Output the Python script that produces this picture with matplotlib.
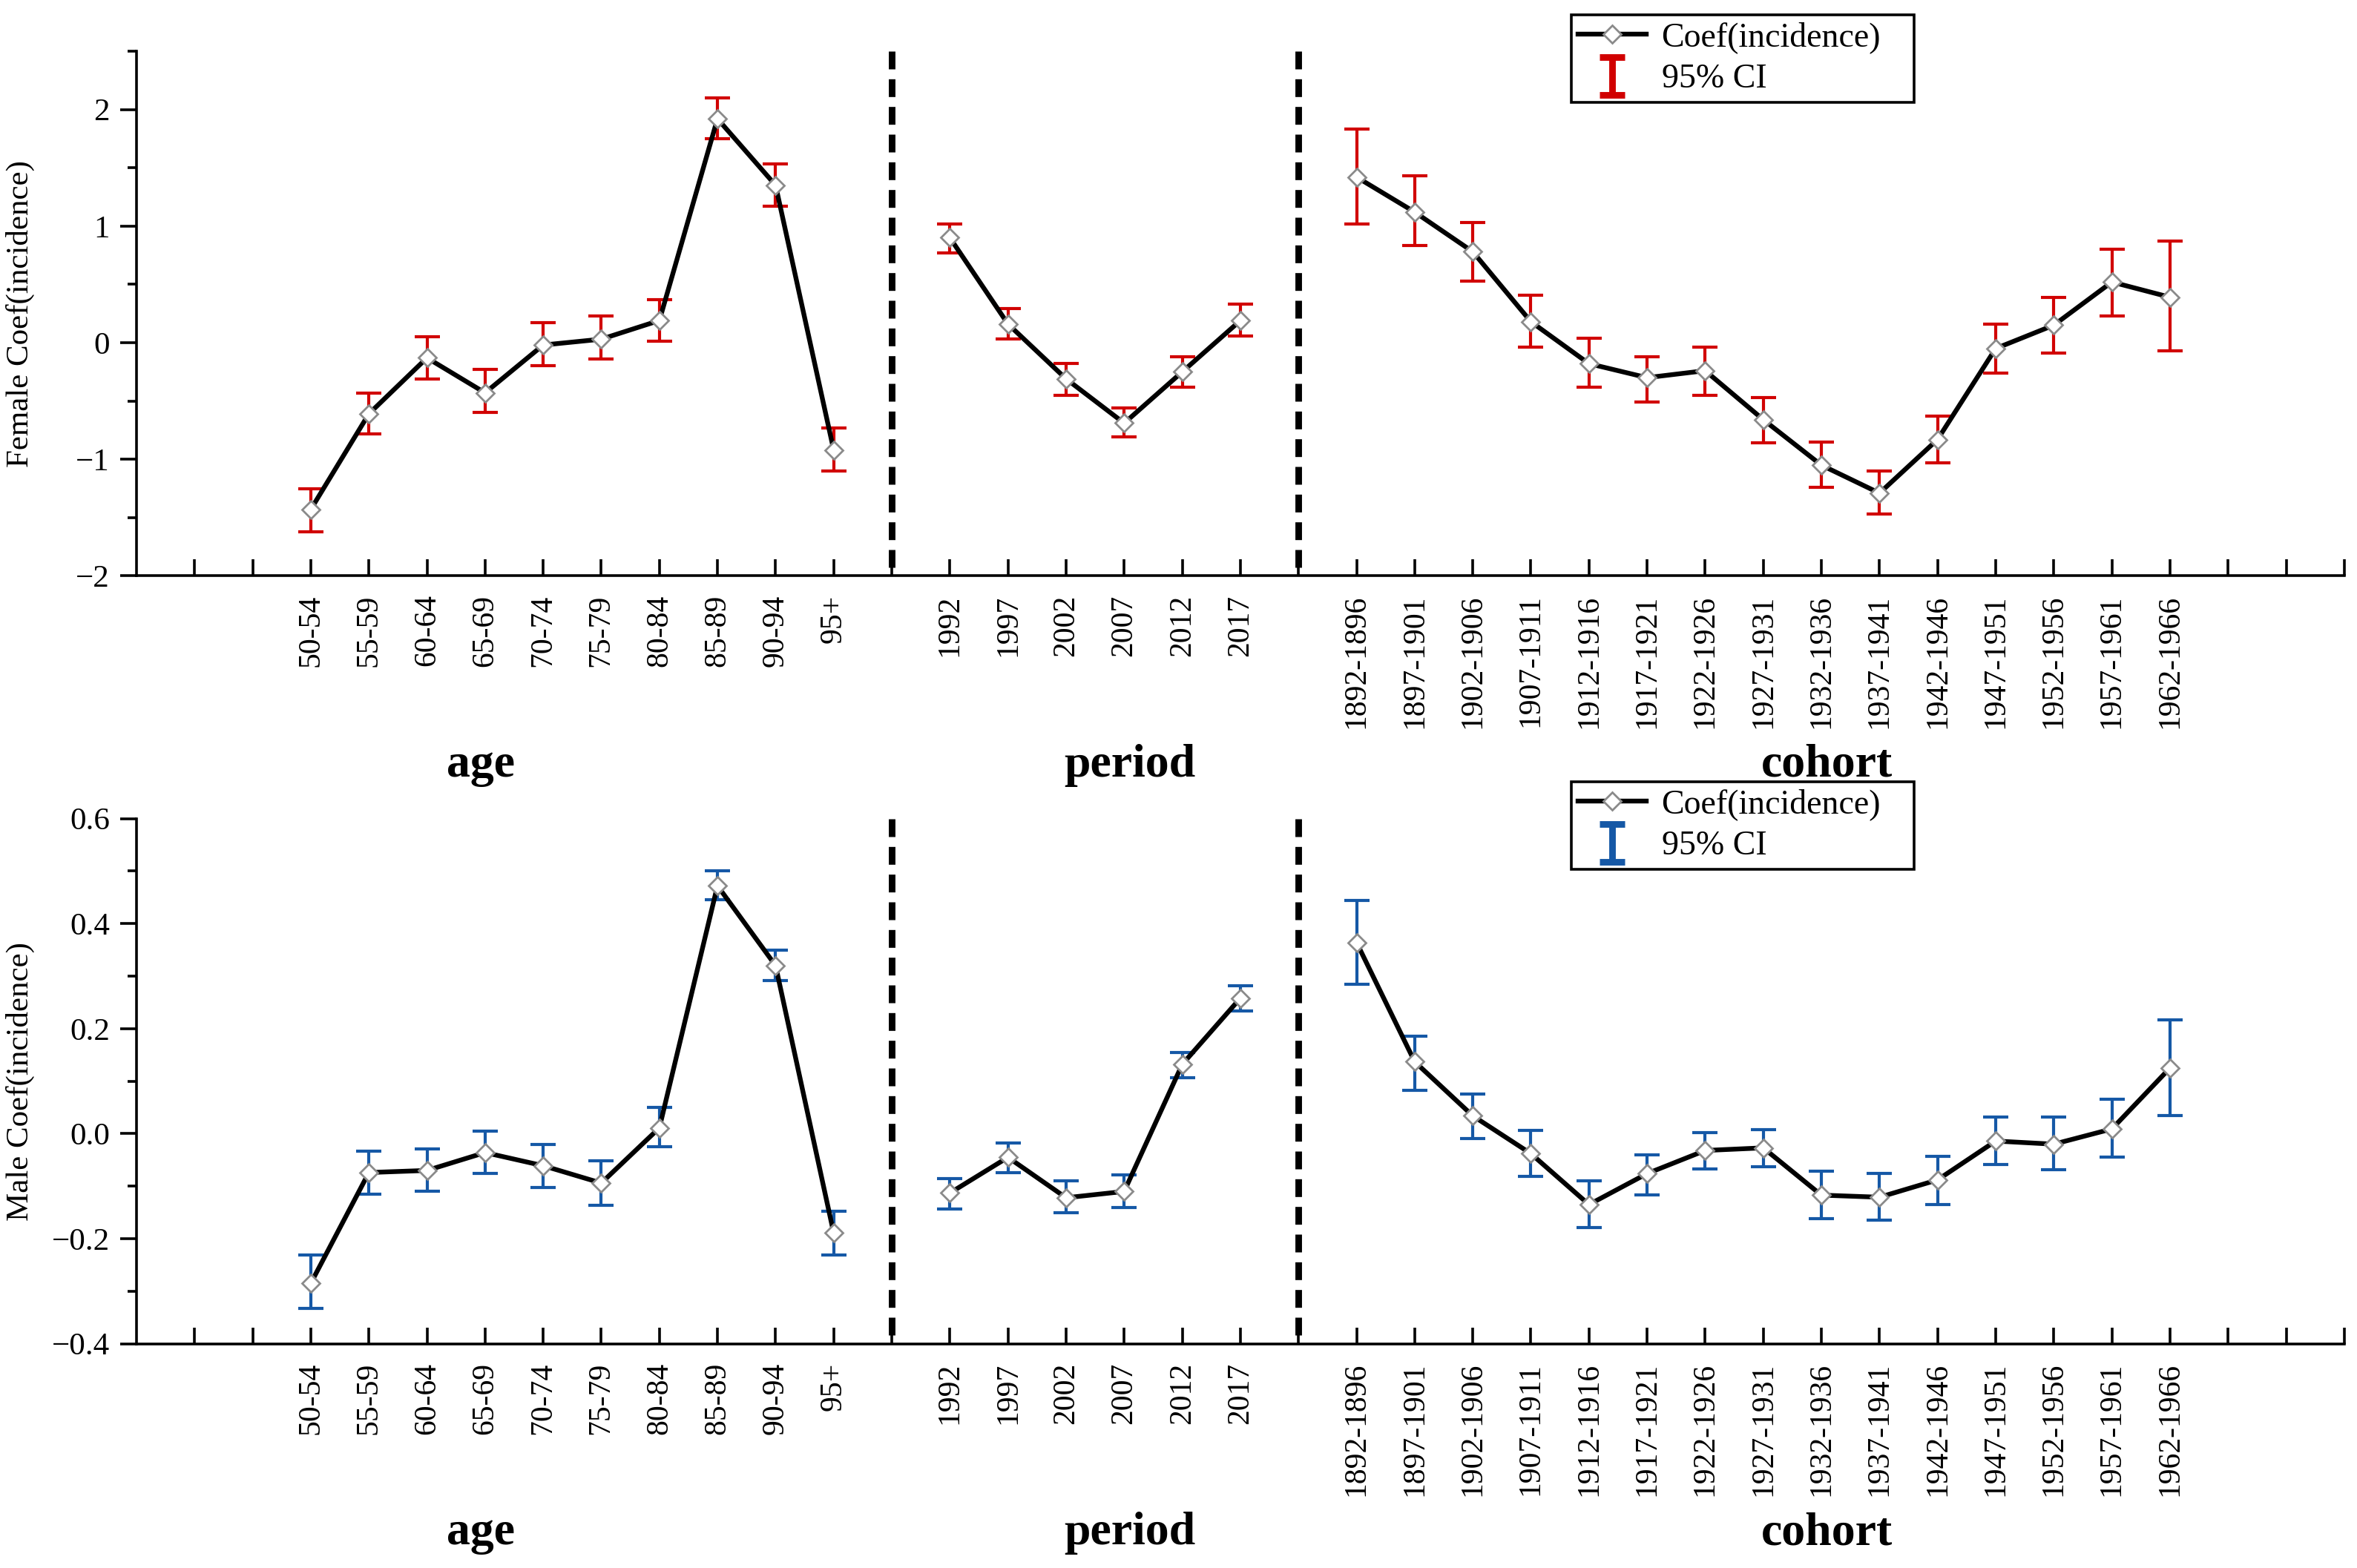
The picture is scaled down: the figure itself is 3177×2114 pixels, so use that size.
"""Age-period-cohort coefficients of incidence, female (top) and male (bottom)."""

import matplotlib
matplotlib.use("Agg")
import matplotlib.pyplot as plt
from matplotlib.collections import LineCollection
from matplotlib.container import ErrorbarContainer
from matplotlib.legend_handler import HandlerErrorbar
from matplotlib.ticker import MultipleLocator, FixedLocator

plt.rcParams["font.family"] = ["Liberation Serif", "DejaVu Serif"]

age_labels = ["50-54", "55-59", "60-64", "65-69", "70-74", "75-79", "80-84",
              "85-89", "90-94", "95+"]
period_labels = ["1992", "1997", "2002", "2007", "2012", "2017"]
cohort_labels = ["1892-1896", "1897-1901", "1902-1906", "1907-1911", "1912-1916",
                 "1917-1921", "1922-1926", "1927-1931", "1932-1936", "1937-1941",
                 "1942-1946", "1947-1951", "1952-1956", "1957-1961", "1962-1966"]

# female
f_age = [-1.43, -0.61, -0.13, -0.43, -0.02, 0.03, 0.19, 1.92, 1.35, -0.92]
f_age_lo = [-1.62, -0.78, -0.31, -0.60, -0.20, -0.14, 0.01, 1.75, 1.17, -1.10]
f_age_hi = [-1.25, -0.43, 0.05, -0.23, 0.17, 0.23, 0.37, 2.10, 1.53, -0.73]
f_period = [0.90, 0.16, -0.31, -0.69, -0.25, 0.19]
f_period_lo = [0.77, 0.03, -0.45, -0.81, -0.38, 0.06]
f_period_hi = [1.02, 0.29, -0.18, -0.56, -0.12, 0.33]
f_cohort = [1.42, 1.12, 0.78, 0.18, -0.18, -0.30, -0.24, -0.66, -1.05, -1.29,
            -0.83, -0.05, 0.15, 0.52, 0.39]
f_cohort_lo = [1.02, 0.83, 0.53, -0.04, -0.38, -0.51, -0.45, -0.86, -1.24, -1.47,
               -1.03, -0.26, -0.09, 0.23, -0.07]
f_cohort_hi = [1.83, 1.43, 1.03, 0.41, 0.04, -0.12, -0.04, -0.47, -0.85, -1.10,
               -0.63, 0.16, 0.39, 0.80, 0.87]

# male
m_age = [-0.285, -0.074, -0.070, -0.036, -0.061, -0.094, 0.011, 0.472, 0.320, -0.189]
m_age_lo = [-0.333, -0.115, -0.110, -0.076, -0.103, -0.137, -0.025, 0.445, 0.291, -0.231]
m_age_hi = [-0.231, -0.033, -0.029, 0.005, -0.021, -0.052, 0.050, 0.500, 0.349, -0.147]
m_period = [-0.113, -0.045, -0.122, -0.110, 0.132, 0.258]
m_period_lo = [-0.143, -0.074, -0.151, -0.140, 0.107, 0.234]
m_period_hi = [-0.085, -0.018, -0.090, -0.079, 0.155, 0.281]
m_cohort = [0.364, 0.137, 0.034, -0.038, -0.135, -0.076, -0.032, -0.027, -0.117,
            -0.121, -0.088, -0.014, -0.020, 0.009, 0.125]
m_cohort_lo = [0.284, 0.082, -0.009, -0.081, -0.179, -0.117, -0.067, -0.063, -0.162,
               -0.165, -0.135, -0.059, -0.069, -0.045, 0.034]
m_cohort_hi = [0.444, 0.186, 0.076, 0.006, -0.090, -0.041, 0.002, 0.008, -0.072,
               -0.075, -0.043, 0.032, 0.031, 0.065, 0.217]

# slot positions on the shared x axis
AGE_START, PERIOD_START, COHORT_START = 3, 14, 21
DIVIDERS = [13, 20]
N_SLOTS = 38

RED = "#D10000"
BLUE = "#1558A6"


def thick_ci(legend_handle, orig_handle):
    # the legend glyph for the CI is drawn much heavier than the bars themselves
    legend_handle.update_from(orig_handle)
    if isinstance(legend_handle, LineCollection):
        legend_handle.set_linewidth(3.2)
    else:
        legend_handle.set_markeredgewidth(3.2)


def draw_panel(ax, groups, color, ylim, major, minor, ylabel):
    pos_labels = {}
    for start, labels, coef, lo, hi in groups:
        xs = list(range(start, start + len(labels)))
        err = [[c - l for c, l in zip(coef, lo)], [h - c for c, h in zip(coef, hi)]]
        eb = ax.errorbar(xs, coef, yerr=err, fmt="none", ecolor=color,
                         elinewidth=1.5, capsize=6, capthick=1.5, zorder=2)
        ln, = ax.plot(xs, coef, color="black", lw=2.3, marker="D", ms=6,
                      mfc="white", mec="#8a8a8a", mew=1.0, zorder=3)
        for x, lab in zip(xs, labels):
            pos_labels[x] = lab

    for d in DIVIDERS:
        ax.plot([d, d], [ylim[1], ylim[0]], color="black", lw=3.2,
                linestyle=(0, (2.7, 1.5)), zorder=1, clip_on=False)

    ax.set_xlim(0, N_SLOTS)
    ticks = list(range(1, N_SLOTS + 1))
    ax.xaxis.set_major_locator(FixedLocator(ticks))
    ax.set_xticklabels([pos_labels.get(t, "") for t in ticks], rotation=90,
                       fontsize=15)
    ax.tick_params(axis="x", direction="in", length=8, width=1.3, pad=9)

    ax.set_ylim(*ylim)
    ax.yaxis.set_major_locator(MultipleLocator(major))
    ax.yaxis.set_minor_locator(MultipleLocator(minor))
    ax.tick_params(axis="y", which="major", direction="out", length=8,
                   width=1.3, labelsize=15.5, pad=5)
    ax.tick_params(axis="y", which="minor", direction="out", length=4.5, width=1.3)
    ax.set_ylabel(ylabel, fontsize=15.5)
    ax.yaxis.set_label_coords(-0.046, 0.5)

    for side in ("top", "right"):
        ax.spines[side].set_visible(False)
    for side in ("left", "bottom"):
        ax.spines[side].set_linewidth(1.3)

    trans = ax.get_xaxis_transform()
    for x, name in ((5.93, "age"), (17.1, "period"), (29.1, "cohort")):
        ax.text(x, -0.382, name, transform=trans, ha="center", va="baseline",
                fontsize=23, fontweight="bold")
    return ln, eb


fig = plt.figure(figsize=(15.885, 10.57), dpi=200)
ax_f = fig.add_axes([0.0579, 0.6327, 0.9367, 0.3347])
ax_m = fig.add_axes([0.0579, 0.1430, 0.9367, 0.3350])

handles_f = draw_panel(
    ax_f,
    [(AGE_START, age_labels, f_age, f_age_lo, f_age_hi),
     (PERIOD_START, period_labels, f_period, f_period_lo, f_period_hi),
     (COHORT_START, cohort_labels, f_cohort, f_cohort_lo, f_cohort_hi)],
    RED, (-2, 2.5), 1, 0.5, "Female Coef(incidence)")

handles_m = draw_panel(
    ax_m,
    [(AGE_START, age_labels, m_age, m_age_lo, m_age_hi),
     (PERIOD_START, period_labels, m_period, m_period_lo, m_period_hi),
     (COHORT_START, cohort_labels, m_cohort, m_cohort_lo, m_cohort_hi)],
    BLUE, (-0.4, 0.6), 0.2, 0.1, "Male Coef(incidence)")

for handles, top in ((handles_f, 0.9905), (handles_m, 0.5014)):
    leg = fig.legend(handles, ["Coef(incidence)", "95% CI"], loc="upper left",
                     bbox_to_anchor=(0.6667, top - 0.053, 0.1453, 0.053),
                     mode="expand", borderaxespad=0, fontsize=16.5,
                     fancybox=False, edgecolor="black", framealpha=1,
                     handlelength=2.0, handletextpad=0.45, borderpad=0.2,
                     labelspacing=0.3, numpoints=1,
                     handler_map={ErrorbarContainer: HandlerErrorbar(
                         yerr_size=0.55, update_func=thick_ci)})
    leg.get_frame().set_linewidth(1.3)

fig.savefig("out.png", dpi=200)
